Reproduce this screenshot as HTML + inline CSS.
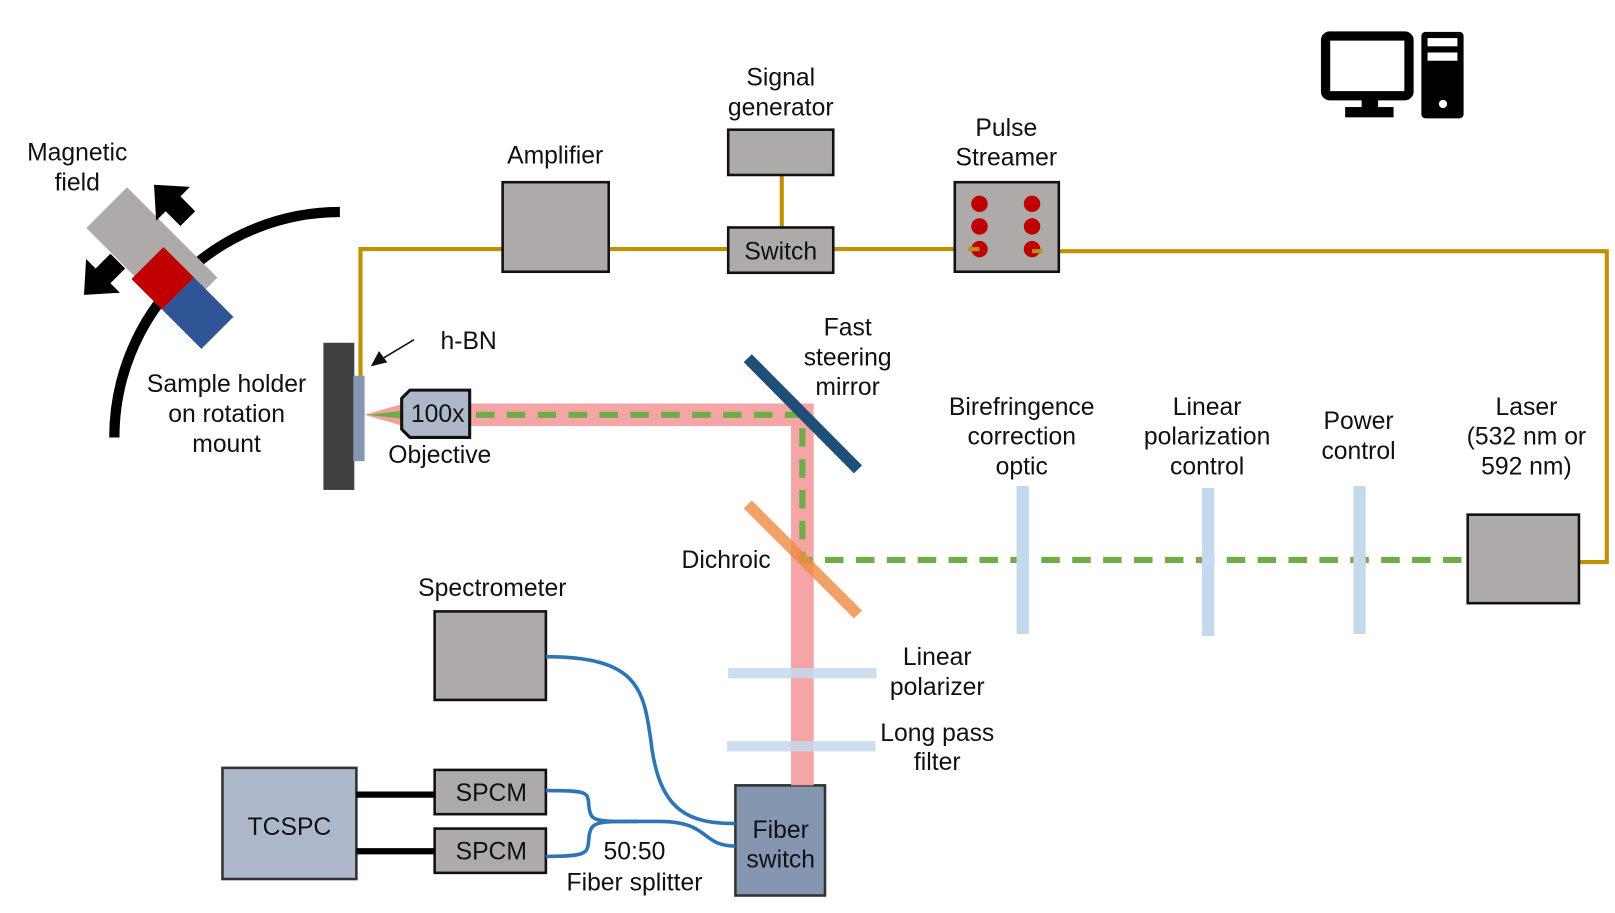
<!DOCTYPE html>
<html><head><meta charset="utf-8"><style>
html,body{margin:0;padding:0;background:#fff;}
svg{display:block;}
text{font-family:"Liberation Sans",Arial,sans-serif;font-size:24px;fill:#111;text-anchor:middle;}
</style></head><body>
<svg width="1615" height="913" viewBox="0 0 1568 887" preserveAspectRatio="none" xmlns="http://www.w3.org/2000/svg">
<g stroke="#bf9000" stroke-width="4" fill="none">
<polyline points="350,425 350,242 488,242"/>
<line x1="591" y1="242" x2="707" y2="242"/>
<line x1="759" y1="170" x2="759" y2="221"/>
<line x1="809" y1="242" x2="951" y2="242"/>
<polyline points="1002,244 1560,244 1560,546 1533,546"/>
</g>
<g fill="#aeaaaa" stroke="#111" stroke-width="2.5">
<rect x="488" y="177" width="103" height="87"/>
<rect x="707" y="126" width="102" height="44"/>
<rect x="707" y="221" width="102" height="44"/>
<rect x="927" y="177" width="101" height="87"/>
<rect x="1425" y="500" width="108" height="86"/>
<rect x="422" y="594" width="108" height="86"/>
<rect x="422" y="748" width="108" height="43"/>
<rect x="422" y="805" width="108" height="43"/>
</g>
<rect x="216" y="746" width="130" height="108" fill="#adb9ca" stroke="#333" stroke-width="2.5"/>
<rect x="714" y="763" width="87" height="107" fill="#8496b0" stroke="#333" stroke-width="2.5"/>
<g fill="#c00000">
<ellipse cx="951" cy="198" rx="8" ry="8"/><ellipse cx="951" cy="220" rx="8" ry="8"/><ellipse cx="951" cy="242" rx="8" ry="8"/>
<ellipse cx="1002" cy="198" rx="8" ry="8"/><ellipse cx="1002" cy="220" rx="8" ry="8"/><ellipse cx="1002" cy="242" rx="8" ry="8"/>
</g>
<line x1="940" y1="242" x2="951" y2="242" stroke="#bf9000" stroke-width="4"/>
<line x1="1002" y1="244" x2="1012" y2="244" stroke="#bf9000" stroke-width="4"/>
<rect x="1287" y="35" width="81" height="58" rx="4" fill="none" stroke="#000" stroke-width="9"/>
<rect x="1322" y="95" width="16" height="12" fill="#000"/>
<rect x="1306" y="104" width="47" height="10" fill="#000"/>
<rect x="1380" y="31" width="41" height="84" rx="4" fill="#000"/>
<rect x="1386" y="37" width="29" height="8" fill="#fff"/>
<rect x="1386" y="51" width="29" height="8" fill="#fff"/>
<circle cx="1401" cy="101" r="4" fill="#fff"/>
<g stroke="#f4a0a0" stroke-width="22" fill="none" opacity="0.95">
<polyline points="456,403 779,403 779,763"/>
</g>
<polygon points="354,403 392,392 392,414" fill="#f4a0a0"/>
<polygon points="356,403 392,399 392,407" fill="#70ad47"/>
<g stroke="#70ad47" stroke-width="6" fill="none" stroke-dasharray="18,12">
<polyline points="462,403 779,403 779,544 1425,544"/>
</g>
<g stroke="#c5d9ee" stroke-width="12">
<line x1="993" y1="472" x2="993" y2="616"/>
<line x1="1173" y1="474" x2="1173" y2="618"/>
<line x1="1320" y1="472" x2="1320" y2="616"/>
</g>
<g stroke="#c5d9ee" stroke-width="10" opacity="0.85">
<line x1="707" y1="654" x2="851" y2="654"/>
<line x1="706" y1="725" x2="850" y2="725"/>
</g>
<line x1="726" y1="348" x2="833" y2="456" stroke="#1f4e79" stroke-width="11"/>
<line x1="726" y1="490" x2="833" y2="597" stroke="#f08c40" stroke-width="11" opacity="0.8"/>
<polygon points="398,379 456,379 456,425 398,425 390,417 390,387" fill="#adb9ca" stroke="#111" stroke-width="3"/>
<rect x="314" y="333" width="30" height="143" fill="#404040"/>
<rect x="343" y="365" width="11" height="83" fill="#8497b0"/>
<line x1="402" y1="330" x2="372" y2="348" stroke="#111" stroke-width="1.5"/>
<polygon points="360,356 368,341 376,352" fill="#111"/>
<path d="M111,425 A219,219 0 0 1 330,206" fill="none" stroke="#000" stroke-width="10"/>
<g transform="translate(146,247) rotate(45)">
<rect x="-62" y="-30" width="124" height="56" fill="#aeaaaa"/>
<rect x="4" y="-14" width="42" height="44" fill="#c00000"/>
<rect x="46" y="-14" width="54" height="44" fill="#2f5597"/>
</g>
<g fill="#000">
<g transform="translate(168,198) rotate(-45) scale(1.45)"><polygon points="-7,14 -7,0 -16,0 0,-18 16,0 7,0 7,14"/></g>
<g transform="translate(100,268) rotate(-135) scale(1.45)"><polygon points="-7,14 -7,0 -16,0 0,-18 16,0 7,0 7,14"/></g>
</g>
<g stroke="#2e75b6" stroke-width="3.5" fill="none">
<path d="M530,638 C620,638 625,670 632,720 C640,790 670,800 714,800"/>
<path d="M530,768 C575,768 570,770 572,785 C574,800 580,798 640,798 C690,798 680,822 714,822"/>
<path d="M530,832 C575,832 570,828 572,812 C574,798 580,798 620,798"/>
</g>
<g stroke="#000" stroke-width="6">
<line x1="346" y1="772" x2="422" y2="772"/>
<line x1="346" y1="827" x2="422" y2="827"/>
</g>
<text x="75" y="156">Magnetic</text><text x="75" y="185">field</text>
<text x="220" y="381">Sample holder</text><text x="220" y="410">on rotation</text><text x="220" y="439">mount</text>
<text x="455" y="339">h-BN</text>
<text x="425" y="410">100x</text>
<text x="427" y="450">Objective</text>
<text x="539" y="159">Amplifier</text>
<text x="758" y="83">Signal</text><text x="758" y="112">generator</text>
<text x="977" y="132">Pulse</text><text x="977" y="161">Streamer</text>
<text x="758" y="252">Switch</text>
<text x="823" y="326">Fast</text><text x="823" y="355">steering</text><text x="823" y="384">mirror</text>
<text x="992" y="403">Birefringence</text><text x="992" y="432">correction</text><text x="992" y="461">optic</text>
<text x="1172" y="403">Linear</text><text x="1172" y="432">polarization</text><text x="1172" y="461">control</text>
<text x="1319" y="417">Power</text><text x="1319" y="446">control</text>
<text x="1482" y="403">Laser</text><text x="1482" y="432">(532 nm or</text><text x="1482" y="461">592 nm)</text>
<text x="705" y="552">Dichroic</text>
<text x="478" y="579">Spectrometer</text>
<text x="910" y="646">Linear</text><text x="910" y="675">polarizer</text>
<text x="910" y="720">Long pass</text><text x="910" y="748">filter</text>
<text x="477" y="778">SPCM</text><text x="477" y="835">SPCM</text>
<text x="281" y="811">TCSPC</text>
<text x="616" y="835">50:50</text><text x="616" y="865">Fiber splitter</text>
<text x="758" y="814">Fiber</text><text x="758" y="843">switch</text>
</svg>
</body></html>
